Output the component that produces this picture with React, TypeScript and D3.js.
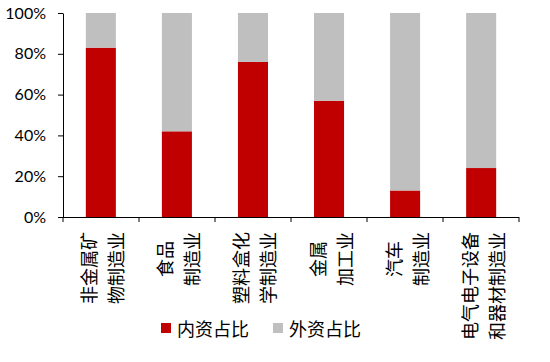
import { useRef, useEffect } from 'react'
import * as d3 from 'd3'

// categories, two lines each as in the original label layout
const categories = ['非金属矿物制造业', '食品制造业', '塑料盒化学制造业', '金属加工业', '汽车制造业', '电气电子设备和器材制造业']
const labelLines = [
  ['非金属矿', '物制造业'],
  ['食品', '制造业'],
  ['塑料盒化', '学制造业'],
  ['金属', '加工业'],
  ['汽车', '制造业'],
  ['电气电子设备', '和器材制造业'],
]
const domestic = [83, 42, 76, 57, 13, 24]
const foreign = [17, 58, 24, 43, 87, 76]
const seriesNames = ['内资占比', '外资占比']
const colors = ['#C00000', '#BFBFBF']
const yTicks = [0, 20, 40, 60, 80, 100]

const App = () => {
  const svgRef = useRef<SVGSVGElement>(null)

  useEffect(() => {
    const w = 550
    const h = 362
    const left = 63
    const right = 519
    const top = 13
    const bottom = 217
    const svg = d3.select(svgRef.current)
    svg.selectAll('*').remove()
    svg.attr('width', w).attr('height', h)

    const x = d3.scaleBand<string>()
      .domain(categories)
      .range([left, right])
      .paddingInner(0.605)
      .paddingOuter(0.3)
    const y = d3.scaleLinear().domain([0, 100]).range([bottom, top])

    // stacked bars
    const rows = categories.map((c, i) => ({ cat: c, d: domestic[i], f: foreign[i] }))
    const stack = d3.stack<any>().keys(['d', 'f'])(rows)
    svg.append('g')
      .selectAll('g')
      .data(stack)
      .join('g')
      .attr('fill', (_, i) => colors[i])
      .selectAll('rect')
      .data(s => s)
      .join('rect')
      .attr('x', d => x(d.data.cat)!)
      .attr('width', x.bandwidth())
      .attr('y', d => y(d[1]))
      .attr('height', d => y(d[0]) - y(d[1]))

    // y axis
    const yAxis = d3.axisLeft(y)
      .tickValues(yTicks)
      .tickFormat(d => `${d}%`)
      .tickSizeInner(5)
      .tickSizeOuter(0)
      .tickPadding(12)
    const gy = svg.append('g')
      .attr('transform', `translate(${left},0)`)
      .call(yAxis)
    gy.selectAll('text')
      .attr('font-family', 'Lato, "Open Sans", sans-serif')
      .attr('font-size', 16)
      .attr('fill', '#000')
    gy.selectAll('line,path').attr('stroke', '#000')

    // x axis with ticks at category boundaries
    const step = (right - left) / categories.length
    const gx = svg.append('g')
    gx.append('line')
      .attr('x1', left).attr('x2', right)
      .attr('y1', bottom + 0.5).attr('y2', bottom + 0.5)
      .attr('stroke', '#000')
    gx.selectAll('.tk')
      .data(d3.range(categories.length + 1))
      .join('line')
      .attr('class', 'tk')
      .attr('x1', i => left + i * step)
      .attr('x2', i => left + i * step)
      .attr('y1', bottom)
      .attr('y2', bottom + 5)
      .attr('stroke', '#000')

    // rotated category labels
    const fs = 18
    const lineGap = 27
    const labels = svg.append('g')
      .attr('font-family', '"Noto Sans CJK SC", sans-serif')
      .attr('font-size', fs)
      .attr('fill', '#000')
    categories.forEach((c, i) => {
      const lines = labelLines[i]
      const cx = x(c)! + x.bandwidth() / 2 + 1
      const maxLen = d3.max(lines, l => l.length)!
      const cy = 232 + (maxLen * fs) / 2
      lines.forEach((line, j) => {
        const lx = cx + (j - (lines.length - 1) / 2) * lineGap
        labels.append('text')
          .attr('transform', `translate(${lx},${cy}) rotate(-90)`)
          .attr('text-anchor', 'middle')
          .attr('dominant-baseline', 'central')
          .text(line)
      })
    })

    // legend
    const legend = svg.append('g')
      .attr('font-family', '"Noto Sans CJK SC", sans-serif')
      .attr('font-size', fs)
    const legendX = [161, 273]
    seriesNames.forEach((name, i) => {
      legend.append('rect')
        .attr('x', legendX[i]).attr('y', 323)
        .attr('width', 10).attr('height', 10)
        .attr('fill', colors[i])
      legend.append('text')
        .attr('x', legendX[i] + 16).attr('y', 328)
        .attr('dominant-baseline', 'central')
        .attr('fill', '#000')
        .text(name)
    })
  }, [])

  return (
    <div style={{ position: 'absolute', left: 0, top: 0 }}>
      <svg ref={svgRef}></svg>
    </div>
  )
}

export default App
